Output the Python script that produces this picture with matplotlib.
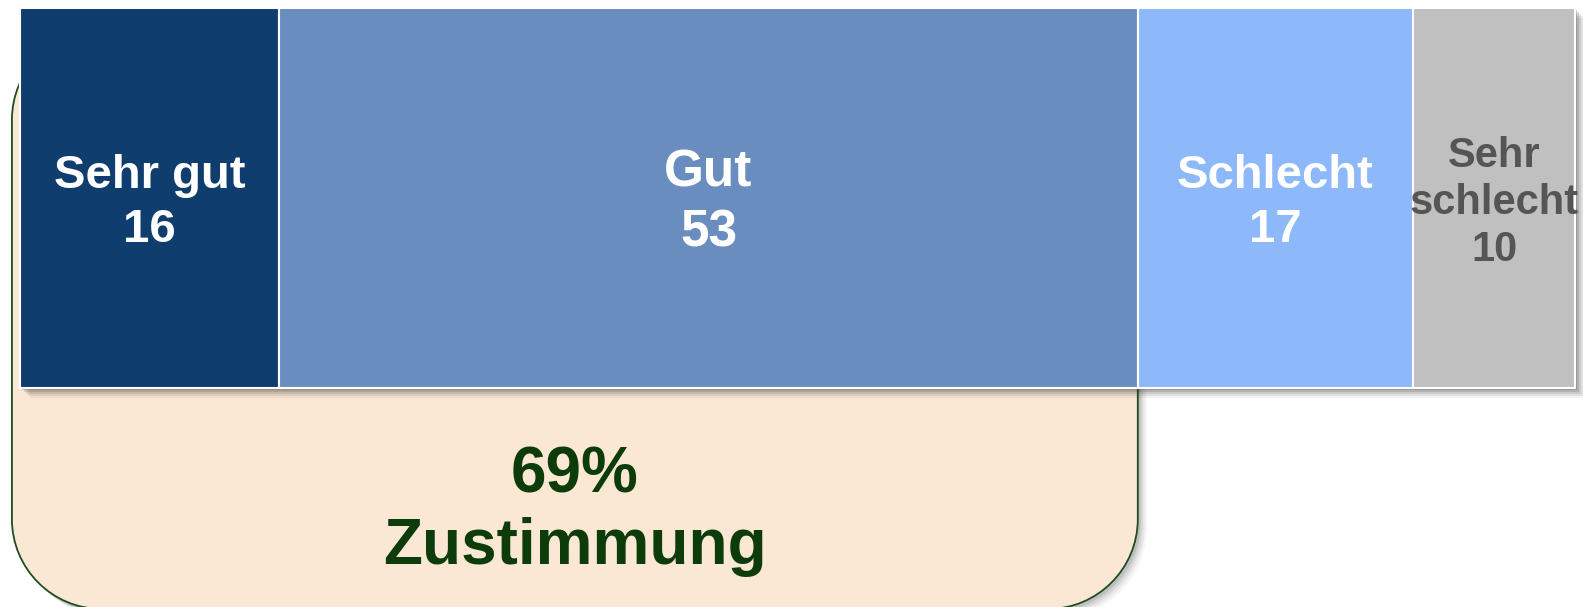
import matplotlib.pyplot as plt
from matplotlib.patches import PathPatch, Rectangle
from matplotlib.path import Path

# Bewertung in Prozent
categories = ['Sehr gut', 'Gut', 'Schlecht', 'Sehr\nschlecht']
values = [16, 53, 17, 10]
colors = ['#0F3D6E', '#6A8DBF', '#8DB8FA', '#C0C0C0']
text_colors = ['white', 'white', 'white', '#555555']
font_sizes = [34, 37, 34, 30]
line_gaps = [1.3, 1.3, 1.28, 1.22]
agree = values[0] + values[1]

W, H = 1583, 607
px_per_unit = 16.2  # pixel width of one percent
x_left = 20 / px_per_unit

fig = plt.figure(figsize=(W / 100, H / 100), dpi=100)
ax = fig.add_axes([0, 0, 1, 1])
ax.set_xlim(-x_left, (W - 20) / px_per_unit)
ax.set_ylim(H, 0)
ax.axis('off')


def rounded_box(x0, x1, y0, y1, rx, ry):
    # rectangle with circular-looking corners (cubic bezier arcs)
    k = 0.5523
    verts = [(x0 + rx, y0), (x1 - rx, y0),
             (x1 - rx + k * rx, y0), (x1, y0 + ry - k * ry), (x1, y0 + ry),
             (x1, y1 - ry),
             (x1, y1 - ry + k * ry), (x1 - rx + k * rx, y1), (x1 - rx, y1),
             (x0 + rx, y1),
             (x0 + rx - k * rx, y1), (x0, y1 - ry + k * ry), (x0, y1 - ry),
             (x0, y0 + ry),
             (x0, y0 + ry - k * ry), (x0 + rx - k * rx, y0), (x0 + rx, y0),
             (x0 + rx, y0)]
    codes = [Path.MOVETO, Path.LINETO,
             Path.CURVE4, Path.CURVE4, Path.CURVE4,
             Path.LINETO,
             Path.CURVE4, Path.CURVE4, Path.CURVE4,
             Path.LINETO,
             Path.CURVE4, Path.CURVE4, Path.CURVE4,
             Path.LINETO,
             Path.CURVE4, Path.CURVE4, Path.CURVE4,
             Path.CLOSEPOLY]
    return Path(verts, codes)


bar_top, bar_bottom = 8, 388
box_left = -0.5
box_top, box_bottom = 30, 609
r_px = 90

# shadow of the rounded box
for off, a in [(9, 0.05), (7, 0.07), (5, 0.10), (3, 0.14)]:
    sh = rounded_box(box_left + off / px_per_unit, agree + off / px_per_unit,
                     box_top + off, box_bottom + off, r_px / px_per_unit, r_px)
    ax.add_patch(PathPatch(sh, fc='#404040', ec='none', alpha=a, zorder=1))

box = rounded_box(box_left, agree, box_top, box_bottom, r_px / px_per_unit, r_px)
ax.add_patch(PathPatch(box, fc='#FAE8D4', ec='#1E4D1E', lw=1.3, zorder=2))

# shadow of the bar
total = sum(values)
for off, a in [(10, 0.06), (8, 0.09), (6, 0.12), (4, 0.16), (2, 0.2)]:
    ax.add_patch(Rectangle((off / px_per_unit, bar_top + off), total, bar_bottom - bar_top,
                           fc='#303030', ec='none', alpha=a, zorder=3))

left = 0
for cat, v, c, tc, fs, lg in zip(categories, values, colors, text_colors, font_sizes, line_gaps):
    ax.barh((bar_top + bar_bottom) / 2, v, height=bar_bottom - bar_top, left=left,
            color=c, edgecolor='white', linewidth=1.5, zorder=4)
    ax.text(left + v / 2, (bar_top + bar_bottom) / 2 + 5, f'{cat}\n{v}',
            ha='center', va='center', color=tc, fontsize=fs, fontweight='bold',
            family='Liberation Sans', linespacing=lg, zorder=5)
    left += v

ax.text(agree / 2 + box_left / 2, 511, f'{agree}%\nZustimmung', ha='center', va='center',
        color='#0D3B0A', fontsize=46, fontweight='bold', family='Liberation Sans',
        linespacing=1.25, zorder=5)

fig.savefig('out.png', dpi=100)
